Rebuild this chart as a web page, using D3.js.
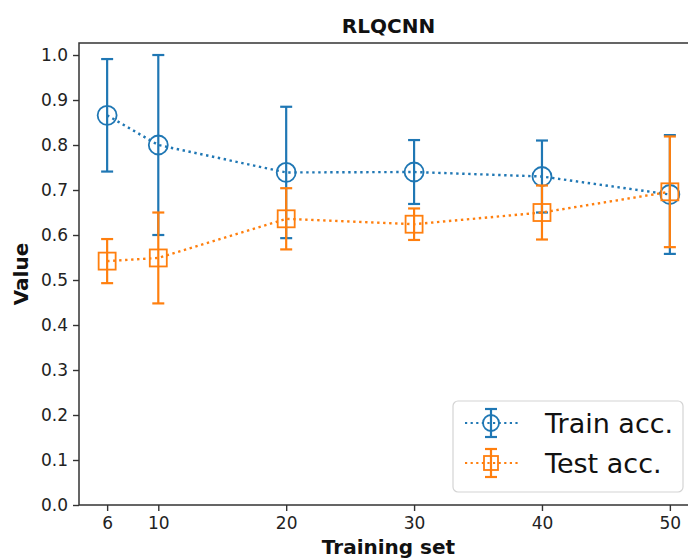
<!DOCTYPE html>
<html>
<head>
<meta charset="utf-8">
<script src="https://cdn.jsdelivr.net/npm/d3@7"></script>
<style>
  html, body { margin: 0; padding: 0; background: #fff; }
  svg { display: block; font-family: "DejaVu Sans", sans-serif; }
</style>
</head>
<body>
<svg id="chart" width="688" height="560"></svg>
<script>
// Training-set sizes and mean accuracies with their spread (±)
const trainingSet = [6, 10, 20, 30, 40, 50];
const trainMean = [0.866, 0.800, 0.739, 0.740, 0.730, 0.690];
const trainErr  = [0.125, 0.200, 0.146, 0.071, 0.080, 0.132];
const testMean  = [0.542, 0.549, 0.636, 0.624, 0.650, 0.696];
const testErr   = [0.049, 0.101, 0.068, 0.035, 0.060, 0.123];
const yTicks = [0.0, 0.1, 0.2, 0.3, 0.4, 0.5, 0.6, 0.7, 0.8, 0.9, 1.0];
const seriesNames = ["Train acc.", "Test acc."];

const BLUE = "#1f77b4", ORANGE = "#ff7f0e";
const svg = d3.select("#chart");
const margin = { left: 79, top: 43, right: 698, bottom: 505 };

const x = d3.scaleLinear().domain([3.8, 52.2]).range([margin.left, margin.right]);
const y = d3.scaleLinear().domain([0, 1.0267]).range([margin.bottom, margin.top]);

// axes
const xAxis = svg.append("g")
  .attr("transform", `translate(0,${margin.bottom})`)
  .call(d3.axisBottom(x).tickValues(trainingSet).tickSize(6).tickPadding(6).tickSizeOuter(0));
const yAxis = svg.append("g")
  .attr("transform", `translate(${margin.left},0)`)
  .call(d3.axisLeft(y).tickValues(yTicks).tickFormat(d3.format(".1f")).tickSize(6).tickPadding(5).tickSizeOuter(0));
[xAxis, yAxis].forEach(g => {
  g.selectAll("text").attr("font-size", 17).attr("fill", "#222").attr("font-family", "DejaVu Sans");
  g.selectAll(".tick line").attr("stroke", "#333").attr("stroke-width", 1.4);
  g.select(".domain").remove();
});

// spines
svg.append("rect")
  .attr("x", margin.left).attr("y", margin.top)
  .attr("width", margin.right - margin.left).attr("height", margin.bottom - margin.top)
  .attr("fill", "none").attr("stroke", "#333").attr("stroke-width", 1.5);

// series
const series = [
  { name: seriesNames[0], mean: trainMean, err: trainErr, color: BLUE, marker: "circle" },
  { name: seriesNames[1], mean: testMean, err: testErr, color: ORANGE, marker: "square" }
];
const cap = 6;

function drawMarker(g, type, cx, cy, color, size) {
  if (type === "circle") {
    g.append("circle").attr("cx", cx).attr("cy", cy).attr("r", size)
      .attr("fill", "none").attr("stroke", color).attr("stroke-width", 1.8);
  } else {
    g.append("rect").attr("x", cx - size).attr("y", cy - size)
      .attr("width", size * 2).attr("height", size * 2)
      .attr("fill", "none").attr("stroke", color).attr("stroke-width", 1.8);
  }
}

series.forEach(s => {
  const g = svg.append("g");
  const pts = trainingSet.map((t, i) => [x(t), y(s.mean[i])]);
  g.append("path").attr("d", d3.line()(pts))
    .attr("fill", "none").attr("stroke", s.color).attr("stroke-width", 2.4)
    .attr("stroke-dasharray", "2.4 3.6");
  trainingSet.forEach((t, i) => {
    const cx = x(t), lo = y(s.mean[i] - s.err[i]), hi = y(s.mean[i] + s.err[i]);
    g.append("line").attr("x1", cx).attr("x2", cx).attr("y1", lo).attr("y2", hi)
      .attr("stroke", s.color).attr("stroke-width", 2.2);
    [lo, hi].forEach(yy => g.append("line")
      .attr("x1", cx - cap).attr("x2", cx + cap).attr("y1", yy).attr("y2", yy)
      .attr("stroke", s.color).attr("stroke-width", 2.2));
    drawMarker(g, s.marker, cx, y(s.mean[i]), s.color, s.marker === "circle" ? 9.5 : 8.5);
  });
});

// title and axis labels
svg.append("text").attr("x", (margin.left + margin.right) / 2).attr("y", 33)
  .attr("text-anchor", "middle").attr("font-size", 20).attr("font-weight", "bold")
  .attr("fill", "#111").text("RLQCNN");
svg.append("text").attr("x", (margin.left + margin.right) / 2).attr("y", 554)
  .attr("text-anchor", "middle").attr("font-size", 20).attr("font-weight", "bold")
  .attr("fill", "#111").text("Training set");
svg.append("text").attr("transform", `translate(28,${(margin.top + margin.bottom) / 2}) rotate(-90)`)
  .attr("text-anchor", "middle").attr("font-size", 20).attr("font-weight", "bold")
  .attr("fill", "#111").text("Value");

// legend
const lg = svg.append("g");
lg.append("rect").attr("x", 453).attr("y", 401).attr("width", 230).attr("height", 91)
  .attr("rx", 5).attr("fill", "#fff").attr("fill-opacity", 0.8)
  .attr("stroke", "#d4d4d4").attr("stroke-width", 1.2);
series.forEach((s, i) => {
  const cy = 423 + i * 40;
  lg.append("line").attr("x1", 465).attr("x2", 518).attr("y1", cy).attr("y2", cy)
    .attr("stroke", s.color).attr("stroke-width", 2.2).attr("stroke-dasharray", "2.2 3.4");
  lg.append("line").attr("x1", 491).attr("x2", 491).attr("y1", cy - 14).attr("y2", cy + 14)
    .attr("stroke", s.color).attr("stroke-width", 2.2);
  [cy - 14, cy + 14].forEach(yy => lg.append("line")
    .attr("x1", 491 - cap).attr("x2", 491 + cap).attr("y1", yy).attr("y2", yy)
    .attr("stroke", s.color).attr("stroke-width", 2.2));
  drawMarker(lg, s.marker, 491, cy, s.color, s.marker === "circle" ? 8 : 7);
  lg.append("text").attr("x", 545).attr("y", cy + 10).attr("font-size", 27)
    .attr("fill", "#111").text(s.name);
});
</script>
</body>
</html>
